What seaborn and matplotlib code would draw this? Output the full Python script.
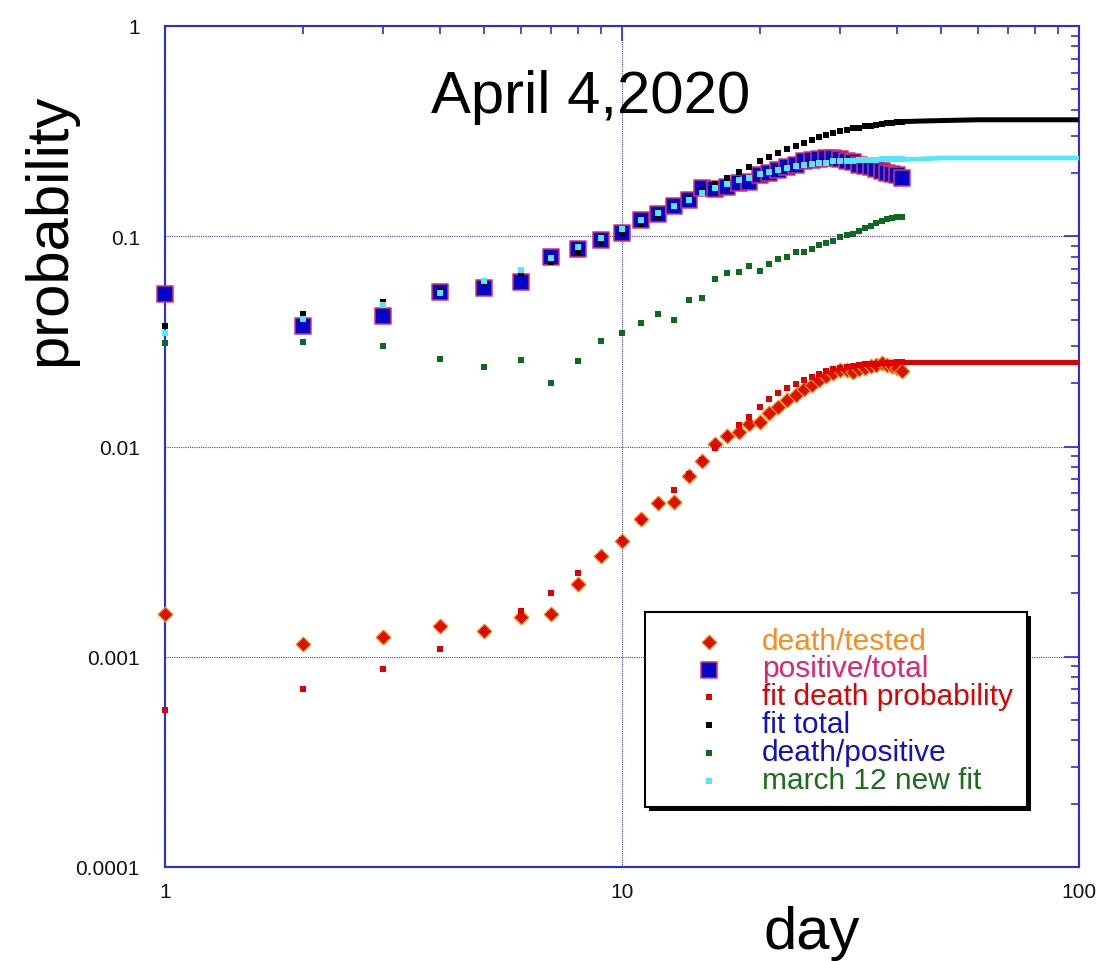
import numpy as np
import pandas as pd
import matplotlib
matplotlib.use("Agg")
import matplotlib.pyplot as plt
import seaborn as sns
from matplotlib.ticker import LogLocator, FuncFormatter, NullFormatter
from matplotlib.patches import Rectangle

sns.set_style("white")
plt.rcParams['font.family'] = ['Liberation Sans', 'DejaVu Sans']
plt.rcParams['text.color'] = 'black'

# ---------------- data ----------------
days = list(range(1, 42))

death_tested = [0.0016, 0.00115, 0.00124, 0.0014, 0.00133, 0.00155, 0.00159, 0.00221, 0.00302, 0.00356,
                0.00451, 0.0054, 0.00545, 0.00723, 0.00852, 0.01033, 0.01124, 0.01166, 0.01277, 0.0131,
                0.01445, 0.01545, 0.01662, 0.01756, 0.01868, 0.0196, 0.0207, 0.0217, 0.0224, 0.0231,
                0.0230, 0.0227, 0.0233, 0.0236, 0.0242, 0.0245, 0.0250, 0.0245, 0.0242, 0.0236, 0.0229]

positive_total = [0.053, 0.0373, 0.0417, 0.0543, 0.0565, 0.0606, 0.080, 0.087, 0.096, 0.1033,
                  0.1196, 0.127, 0.140, 0.148, 0.1705, 0.168, 0.1717, 0.179, 0.182, 0.196,
                  0.201, 0.207, 0.213, 0.219, 0.229, 0.231, 0.233, 0.235, 0.235, 0.232,
                  0.228, 0.225, 0.219, 0.216, 0.214, 0.208, 0.205, 0.201, 0.198, 0.195, 0.190]

fit_death = [0.000561, 0.000702, 0.000877, 0.001084, 0.00133, 0.001644, 0.00202, 0.00249, 0.0030, 0.0036,
             0.0044, 0.0053, 0.00624, 0.0074, 0.0086, 0.00986, 0.0112, 0.01264, 0.01385, 0.01545,
             0.0168, 0.018, 0.019, 0.0198, 0.0207, 0.0215, 0.0221, 0.0228, 0.0233, 0.0237,
             0.0240, 0.0242, 0.0244, 0.0246, 0.0247, 0.0248, 0.0249, 0.0250, 0.0250, 0.0251, 0.0251]

fit_total = [0.0376, 0.0427, 0.0489, 0.0547, 0.0607, 0.0672, 0.0757, 0.0846, 0.0936, 0.1036,
             0.114, 0.1254, 0.139, 0.152, 0.166, 0.177, 0.189, 0.203, 0.214, 0.227,
             0.239, 0.250, 0.260, 0.270, 0.279, 0.288, 0.297, 0.304, 0.310, 0.315,
             0.321, 0.326, 0.329, 0.333, 0.336, 0.339, 0.341, 0.344, 0.347, 0.349, 0.351]

death_positive = [0.0309, 0.0314, 0.0300, 0.0261, 0.0238, 0.0258, 0.0201, 0.0255, 0.0317, 0.0346,
                  0.0386, 0.0425, 0.0398, 0.0496, 0.0510, 0.0629, 0.0667, 0.0676, 0.0725, 0.0684,
                  0.0735, 0.0777, 0.0797, 0.0842, 0.0842, 0.0867, 0.0906, 0.0929, 0.0954, 0.0993,
                  0.1018, 0.1026, 0.1064, 0.1091, 0.112, 0.116, 0.118, 0.1205, 0.122, 0.124, 0.124]

march12_fit = [0.0345, 0.0402, 0.0471, 0.0539, 0.0613, 0.0691, 0.0786, 0.0889, 0.098, 0.108,
               0.1196, 0.1296, 0.1395, 0.149, 0.160, 0.169, 0.177, 0.185, 0.189, 0.197,
               0.203, 0.206, 0.212, 0.215, 0.218, 0.220, 0.224, 0.224, 0.227, 0.227,
               0.229, 0.229, 0.230, 0.231, 0.231, 0.231, 0.232, 0.232, 0.232, 0.232, 0.232]

# dense continuation of the fits beyond the last data day
tail_days = [41, 45, 50, 60, 80, 100]
fit_death_tail = [0.0251, 0.0251, 0.0251, 0.0251, 0.0251, 0.0251]
fit_total_tail = [0.351, 0.353, 0.355, 0.358, 0.358, 0.358]
march12_tail = [0.232, 0.233, 0.2357, 0.2357, 0.2357, 0.2357]

legend_labels = ["death/tested", "positive/total", "fit death probability",
                 "fit total", "death/positive", "march 12 new fit"]
legend_text_colors = ["#ff8a1c", "#e3236b", "#e00000", "#1010cc", "#1010cc", "#1a6e1a"]

title_text = "April 4,2020"
x_ticks = [1, 10, 100]
y_ticks = [0.0001, 0.001, 0.01, 0.1, 1]

# ---------------- figure ----------------
W, H = 1099, 962
fig = plt.figure(figsize=(W / 100, H / 100), dpi=100)
ax = fig.add_axes([165 / W, 1 - 868 / H, 914 / W, 841 / H])
ax.set_xscale('log')
ax.set_yscale('log')

AXBLUE = "#2b2bea"
RED = "#dd1100"
BLUE = "#0000c8"
GREEN = "#0b6b1e"
CYAN = "#50e8ff"

# data marks
sns.scatterplot(x=days, y=death_tested, marker='D', s=58, color=RED, edgecolor="#ff9a1a",
                linewidth=0.8, ax=ax, zorder=3, clip_on=False)
sns.scatterplot(x=days, y=positive_total, marker='s', s=128, color=BLUE, edgecolor="#e0306a",
                linewidth=1.1, ax=ax, zorder=3, clip_on=False)
sns.lineplot(x=tail_days, y=fit_death_tail, color="#e00000", linewidth=3.6, ax=ax, zorder=4,
             solid_capstyle='butt')
sns.scatterplot(x=days, y=fit_death, marker='s', s=13, color="#e00000", linewidth=0, ax=ax, zorder=4,
                clip_on=False)
sns.lineplot(x=tail_days, y=fit_total_tail, color="black", linewidth=3.6, ax=ax, zorder=4,
             solid_capstyle='butt')
sns.scatterplot(x=days, y=fit_total, marker='s', s=16, color="black", linewidth=0, ax=ax, zorder=4,
                clip_on=False)
sns.scatterplot(x=days, y=death_positive, marker='s', s=13, color=GREEN, linewidth=0, ax=ax, zorder=4,
                clip_on=False)
sns.lineplot(x=tail_days, y=march12_tail, color=CYAN, linewidth=3.4, ax=ax, zorder=5,
             solid_capstyle='butt')
sns.scatterplot(x=days, y=march12_fit, marker='s', s=13, color=CYAN, linewidth=0, ax=ax, zorder=5,
                clip_on=False)

ax.set_xlim(1, 100)
ax.set_ylim(0.0001, 1)

# ticks / grid / spines
ax.xaxis.set_major_locator(LogLocator(base=10, numticks=10))
ax.yaxis.set_major_locator(LogLocator(base=10, numticks=10))
ax.xaxis.set_minor_locator(LogLocator(base=10, subs=np.arange(2, 10), numticks=20))
ax.yaxis.set_minor_locator(LogLocator(base=10, subs=np.arange(2, 10), numticks=20))
fmt = FuncFormatter(lambda v, p: "%g" % v)
ax.xaxis.set_major_formatter(fmt)
ax.yaxis.set_major_formatter(fmt)
ax.xaxis.set_minor_formatter(NullFormatter())
ax.yaxis.set_minor_formatter(NullFormatter())
ax.set_xticks(x_ticks)
ax.set_yticks(y_ticks)

ax.tick_params(which='both', direction='in', top=True, right=True, color=AXBLUE,
               labelcolor="#111111", labelsize=15)
ax.tick_params(which='major', length=11, width=1.2)
ax.tick_params(which='minor', length=6, width=1.2)
ax.tick_params(axis='y', which='major', pad=18)
ax.tick_params(axis='x', which='major', pad=11)
for sp in ax.spines.values():
    sp.set_color(AXBLUE)
    sp.set_linewidth(1.5)
    sp.set_visible(True)
ax.grid(True, which='major', color="#3a3aff", linestyle=(0, (1, 1)), linewidth=0.8)
ax.grid(False, which='minor')
ax.set_axisbelow(True)
ax.set_xlabel("")
ax.set_ylabel("")

# texts
fig.text(591 / W, 1 - 113 / H, title_text, ha='center', va='baseline', fontsize=43, color='black')
fig.text(50 / W, 1 - 230 / H, "probability", rotation=90, ha='center', va='center', fontsize=43,
         color='black')
fig.text(812 / W, 1 - 949 / H, "day", ha='center', va='baseline', fontsize=43, color='black')

# legend box drawn in pixel coordinates on an overlay
ov = fig.add_axes([0, 0, 1, 1], zorder=10)
ov.set_xlim(0, W)
ov.set_ylim(H, 0)
ov.axis('off')
ov.patch.set_alpha(0)
ov.add_patch(Rectangle((649, 617), 382, 195, facecolor='black', edgecolor='none'))
ov.add_patch(Rectangle((645, 613), 382, 195, facecolor='white', edgecolor='black', linewidth=1.5))
row_base = [650, 677.5, 705, 733, 761, 789]
mk = [dict(marker='D', s=58, c=RED, edgecolors="#ff9a1a", linewidths=0.8),
      dict(marker='s', s=128, c=BLUE, edgecolors="#e0306a", linewidths=1.1),
      dict(marker='s', s=13, c="#e00000", linewidths=0),
      dict(marker='s', s=16, c="black", linewidths=0),
      dict(marker='s', s=13, c=GREEN, linewidths=0),
      dict(marker='s', s=13, c=CYAN, linewidths=0)]
for yb, lab, col, m in zip(row_base, legend_labels, legend_text_colors, mk):
    ov.scatter([709], [yb - 7], **m)
    ov.text(762, yb, lab, color=col, fontsize=21.5, ha='left', va='baseline')

fig.savefig("out.png", dpi=100)
